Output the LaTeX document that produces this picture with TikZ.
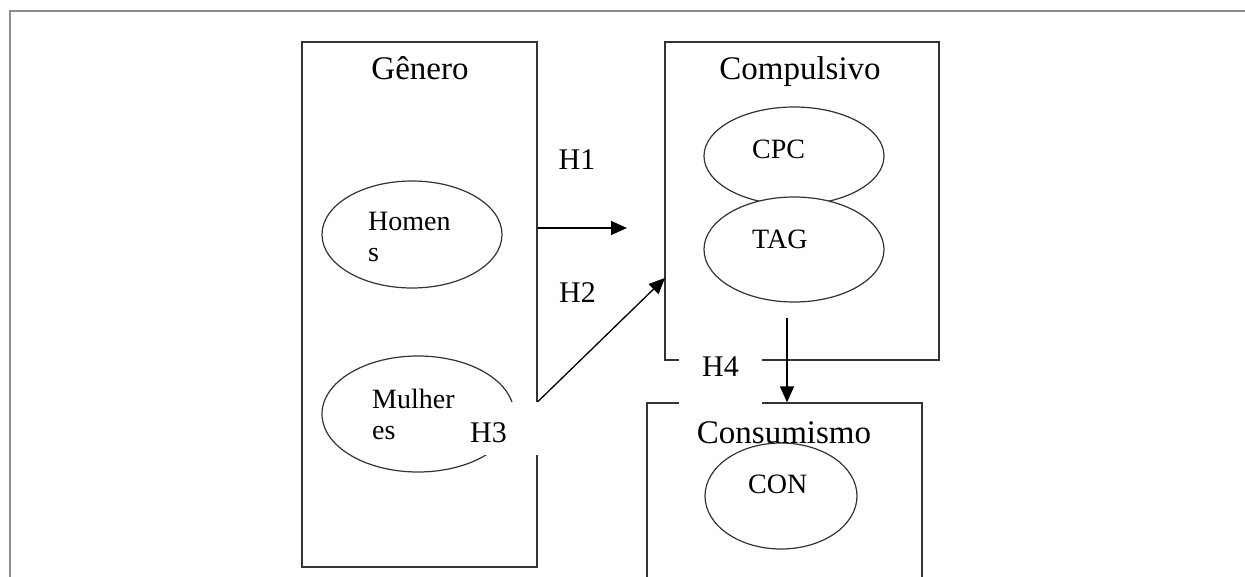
\documentclass[tikz,border=0pt]{standalone}
\usepackage{fontspec}
\setmainfont{Liberation Serif}
\usetikzlibrary{shapes.geometric,arrows.meta}

\definecolor{boxline}{HTML}{333333}
\definecolor{framegray}{HTML}{8C8C8C}

\begin{document}
\begin{tikzpicture}[x=1pt,y=-1pt,
                every path/.style={>={Triangle[length=16pt,width=14pt]}},
                box/.style={draw=boxline,line width=1.3pt,inner sep=0pt},
                oval/.style={draw=boxline,ellipse,fill=white,line width=1.2pt,inner sep=0pt},
                title/.style={font=\fontsize{33}{38}\selectfont,inner sep=0pt,anchor=base},
                txt/.style={font=\fontsize{28}{31}\selectfont,inner sep=0pt,anchor=north west,align=left},
                hyp/.style={font=\fontsize{30}{34}\selectfont,inner sep=0pt,fill=white},
                arrow/.style={->,draw=black,line width=1.3pt}]
  \useasboundingbox (0,0) rectangle (1245,577);
  \clip (0,0) rectangle (1245,577);
  \fill[white] (0,0) rectangle (1245,577);
  \draw[draw=framegray,line width=2pt] (9.5,577) -- (9.5,11.5) -- (1245,11.5);

  % boxes
  \node[box,minimum width=235,minimum height=525] (genero)     at (419.5,304.5) {};
  \node[box,minimum width=274,minimum height=318] (compulsivo) at (802,201)     {};
  \node[box,minimum width=275,minimum height=240] (consumismo) at (784.5,523)   {};

  \node[title] (generoT)     at (420,80)  {Gênero};
  \node[title] (compulsivoT) at (800,80)  {Compulsivo};

  % ovals
  \node[oval,minimum width=180,minimum height=107] (homens)   at (412,234.5) {};
  \node[oval,minimum width=192,minimum height=116] (mulheres) at (418,414)   {};
  \node[oval,minimum width=180,minimum height=98]  (cpc)      at (794,156)   {};
  \node[oval,minimum width=180,minimum height=105] (tag)      at (794,249.5) {};
  \node[oval,minimum width=152,minimum height=106] (con)      at (781,496)   {};

  \node[title] (consumismoT) at (784,443) {Consumismo};

  \node[txt] (homensT)   at (368,212) {Homen\\s};
  \node[txt] (mulheresT) at (372,389) {Mulher\\es};
  \node[txt] (cpcT)      at (752,140) {CPC};
  \node[txt] (tagT)      at (752,230) {TAG};
  \node[txt] (conT)      at (748,475) {CON};

  % hypotheses
  \node[hyp] (h1) at (577,160) {H1};
  \node[hyp] (h2) at (577.5,293) {H2};
  \node[hyp,anchor=base west,text width=75pt,align=left,text height=40pt,text depth=13pt] (h3) at (470,442) {H3};
  \node[hyp,anchor=base,minimum width=83pt,text height=21pt,text depth=34pt] (h4) at (720.5,376) {H4};

  \coordinate (h1end)   at (627,228);
  \coordinate (h2end)   at (665,278);
  \coordinate (h4start) at (787,318);

  \draw[arrow] (genero.east |- h1end) -- (h1end);
  \draw[arrow] (genero.east |- h3.north) -- (h2end);
  \draw[arrow] (h4start) -- (h4start |- consumismo.north);
\end{tikzpicture}
\end{document}
